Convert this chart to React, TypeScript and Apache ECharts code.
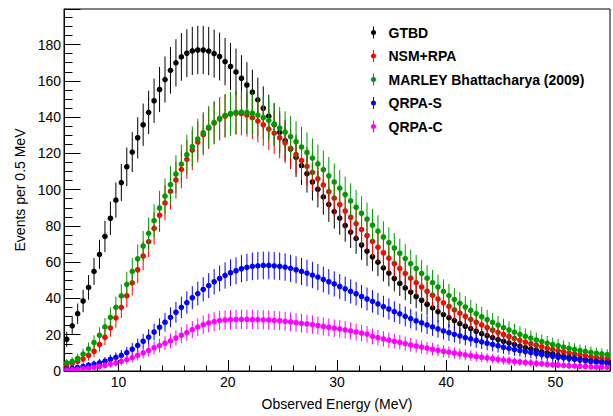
import React, { useEffect, useRef } from "react";
import * as echarts from "echarts";

// Histogram binning (observed energy, MeV)
const BIN_START = 5;
const BIN_WIDTH = 0.5;

// Events per 0.5 MeV, one value per bin
const gtbd = [
  17.5, 24.9, 31.6, 38.6, 46.1, 54.9, 64.3, 74.2, 84.2, 94.2,
  103.9, 112.6, 120.7, 128.6, 135.8, 142.6, 149.0, 155.2, 160.7, 165.8,
  169.9, 173.2, 175.2, 176.5, 177.0, 177.0, 176.4, 175.0, 173.4, 170.6,
  167.9, 164.9, 161.4, 157.7, 153.7, 149.5, 144.9, 140.5, 135.9, 131.6,
  127.0, 122.4, 117.8, 113.2, 108.8, 104.2, 100.2, 96.0, 91.8, 87.9,
  84.3, 80.2, 76.6, 73.1, 69.5, 66.1, 63.0, 60.0, 56.9, 54.0,
  51.0, 48.3, 45.8, 43.5, 41.1, 39.0, 36.8, 34.8, 32.7, 31.1,
  29.4, 27.8, 26.1, 24.7, 23.4, 21.9, 20.6, 19.5, 18.4, 17.3,
  16.4, 15.5, 14.6, 13.7, 12.9, 12.2, 11.5, 10.7, 10.0, 9.4,
  8.7, 8.1, 7.6, 7.1, 6.7, 6.3, 5.9, 5.6, 5.3, 5.0,
];

const nsmRpa = [
  3.2, 4.3, 5.4, 6.7, 8.7, 10.9, 14.6, 18.6, 23.8, 29.3,
  35.1, 41.5, 48.6, 55.8, 63.4, 71.3, 78.6, 85.9, 92.7, 99.1,
  105.3, 111.2, 116.7, 121.8, 126.2, 130.3, 133.9, 136.7, 138.9, 140.5,
  141.6, 142.1, 141.9, 141.1, 139.7, 137.8, 135.8, 133.4, 131.2, 128.6,
  125.8, 122.7, 119.4, 116.1, 112.8, 109.5, 106.0, 102.6, 98.9, 95.3,
  91.8, 88.2, 84.8, 81.3, 78.0, 74.7, 71.5, 68.3, 65.2, 62.2,
  59.3, 56.5, 53.8, 51.2, 48.7, 46.3, 44.0, 41.8, 39.7, 37.6,
  35.6, 33.7, 31.9, 30.2, 28.5, 26.9, 25.4, 24.0, 22.6, 21.3,
  20.1, 19.0, 17.9, 16.9, 15.9, 15.0, 14.2, 13.4, 12.6, 11.9,
  11.2, 10.6, 10.0, 9.4, 8.9, 8.4, 7.9, 7.5, 7.1, 6.7,
];

const marley = [
  4.5, 5.3, 6.9, 9.3, 12.2, 15.7, 19.7, 24.3, 29.6, 35.1,
  41.4, 47.8, 54.9, 61.9, 68.9, 75.9, 82.9, 89.9, 96.4, 102.8,
  108.6, 114.1, 119.3, 123.7, 127.9, 131.4, 134.5, 137.1, 139.3, 140.9,
  142.0, 142.6, 142.7, 142.6, 142.1, 141.1, 139.8, 138.2, 136.2, 134.0,
  131.7, 129.2, 126.4, 123.5, 120.5, 117.4, 114.2, 111.0, 107.6, 104.2,
  100.8, 97.3, 93.8, 90.3, 87.0, 83.7, 80.4, 77.1, 73.9, 70.8,
  67.8, 64.9, 62.0, 59.2, 56.5, 53.8, 51.2, 48.7, 46.3, 43.9,
  41.6, 39.4, 37.3, 35.3, 33.4, 31.6, 29.9, 28.3, 26.8, 25.3,
  23.9, 22.6, 21.4, 20.2, 19.1, 18.1, 17.1, 16.2, 15.4, 14.6,
  13.9, 13.2, 12.5, 11.9, 11.3, 10.8, 10.3, 9.8, 9.4, 9.0,
];

const qrpaS = [
  1.0, 1.5, 1.9, 2.5, 3.2, 3.8, 4.5, 5.4, 6.5, 7.5,
  8.6, 10.1, 12.0, 14.1, 16.4, 18.7, 21.5, 24.1, 26.9, 29.6,
  32.4, 35.1, 37.7, 40.4, 42.7, 45.0, 47.1, 49.2, 51.0, 52.7,
  54.2, 55.3, 56.4, 57.1, 57.7, 58.0, 58.2, 58.2, 58.0, 57.7,
  57.3, 56.6, 55.8, 54.9, 54.0, 52.9, 51.8, 50.5, 49.2, 48.0,
  46.6, 45.3, 43.9, 42.6, 41.1, 39.7, 38.4, 37.0, 35.5, 34.2,
  32.7, 31.5, 30.1, 28.9, 27.6, 26.5, 25.4, 24.3, 23.2, 22.1,
  21.2, 20.2, 19.4, 18.4, 17.7, 16.8, 16.1, 15.3, 14.6, 13.9,
  13.1, 12.5, 11.8, 11.3, 10.7, 10.2, 9.6, 9.1, 8.5, 8.1,
  7.6, 7.3, 6.9, 6.5, 6.0, 5.6, 5.2, 4.9, 4.6, 4.3,
];

const qrpaC = [
  0.5, 0.7, 0.9, 1.2, 1.6, 2.0, 2.5, 3.1, 3.8, 4.5,
  5.3, 6.3, 7.4, 8.7, 10.0, 11.3, 12.8, 14.0, 15.3, 16.6,
  18.2, 19.7, 21.2, 22.8, 24.2, 25.5, 26.5, 27.2, 27.8, 28.1,
  28.3, 28.4, 28.5, 28.5, 28.4, 28.3, 28.2, 28.1, 27.9, 27.7,
  27.4, 27.1, 26.7, 26.3, 26.0, 25.6, 25.1, 24.6, 24.1, 23.6,
  23.2, 22.7, 22.1, 21.5, 20.9, 20.3, 19.1, 18.4, 17.7, 17.0,
  16.4, 15.8, 15.1, 14.4, 13.8, 13.2, 12.6, 12.0, 11.4, 10.9,
  10.4, 9.9, 9.4, 8.9, 8.5, 8.0, 7.6, 7.2, 6.8, 6.4,
  6.0, 5.7, 5.3, 5.0, 4.7, 4.5, 4.2, 4.0, 3.7, 3.5,
  3.3, 3.1, 2.9, 2.8, 2.6, 2.5, 2.3, 2.2, 2.1, 2.0,
];

const seriesNames = [
  "GTBD",
  "NSM+RPA",
  "MARLEY Bhattacharya (2009)",
  "QRPA-S",
  "QRPA-C",
];
const seriesValues = [gtbd, nsmRpa, marley, qrpaS, qrpaC];
const seriesColors = ["#000000", "#ff0000", "#009900", "#0000ff", "#ff00ff"];

const X_MIN = 5;
const X_MAX = 55;
const Y_MIN = 0;
const Y_MAX = 199.6;

const FONT = "'Liberation Sans', Arial, Helvetica, sans-serif";

const legendIcon =
  "path://M2.5,0H3.5V3.6H2.5Z M2.5,8.4H3.5V12H2.5Z M3,3.5A2.5,2.5,0,1,1,3,8.5A2.5,2.5,0,1,1,3,3.5Z";

function buildSeries() {
  return seriesValues.map((vals, k) => {
    const color = seriesColors[k];
    const data = vals.map((v, i) => [
      BIN_START + BIN_WIDTH * (i + 0.5),
      v,
      Math.sqrt(v), // statistical (Poisson) uncertainty
    ]);
    return {
      type: "custom",
      name: seriesNames[k],
      itemStyle: { color },
      clip: true,
      encode: { x: 0, y: 1 },
      data,
      renderItem: (params: any, api: any) => {
        const x = api.value(0);
        const y = api.value(1);
        const e = api.value(2);
        const p = api.coord([x, y]);
        const top = api.coord([x, y + e]);
        const bot = api.coord([x, y - e]);
        return {
          type: "group",
          children: [
            {
              type: "line",
              shape: { x1: p[0], y1: top[1], x2: p[0], y2: bot[1] },
              style: { stroke: color, lineWidth: 1 },
            },
            {
              type: "circle",
              shape: { cx: p[0], cy: p[1], r: 2.8 },
              style: { fill: color },
            },
          ],
        };
      },
    };
  });
}

export default function App() {
  const ref = useRef<HTMLDivElement>(null);

  useEffect(() => {
    if (!ref.current) return;
    const chart = echarts.init(ref.current, undefined, { renderer: "svg" });
    const option: any = {
      animation: false,
      backgroundColor: "#ffffff",
      grid: {
        left: 64,
        right: 3,
        top: 9,
        bottom: 43.5,
        show: true,
        borderColor: "#000000",
        borderWidth: 1,
        backgroundColor: "transparent",
      },
      legend: {
        orient: "vertical",
        left: 366,
        top: 20.5,
        itemWidth: 6,
        itemHeight: 12,
        itemGap: 9.5,
        icon: legendIcon,
        data: seriesNames,
        selectedMode: false,
        textStyle: {
          fontFamily: FONT,
          fontSize: 14,
          fontWeight: "bold",
          color: "#000000",
          lineHeight: 14,
          padding: [0, 0, 0, 7],
        },
      },
      xAxis: {
        type: "value",
        min: X_MIN,
        max: X_MAX,
        splitNumber: 5,
        name: "Observed Energy (MeV)",
        nameLocation: "middle",
        nameGap: 26,
        nameTextStyle: { fontFamily: FONT, fontSize: 14, color: "#000000" },
        axisLine: { show: true, lineStyle: { color: "#000000", width: 1 } },
        axisTick: {
          show: true,
          inside: true,
          length: 11,
          lineStyle: { color: "#000000", width: 1 },
        },
        minorTick: {
          show: true,
          splitNumber: 5,
          length: 5.5,
          lineStyle: { color: "#000000", width: 1 },
        },
        axisLabel: {
          margin: 4,
          fontFamily: FONT,
          fontSize: 14,
          color: "#000000",
          formatter: (v: number) => (v % 10 === 0 ? String(v) : ""),
        },
        splitLine: { show: false },
      },
      yAxis: {
        type: "value",
        min: Y_MIN,
        max: Y_MAX,
        splitNumber: 10,
        name: "Events per 0.5 MeV",
        nameLocation: "middle",
        nameGap: 33,
        nameTextStyle: { fontFamily: FONT, fontSize: 14, color: "#000000" },
        axisLine: { show: true, lineStyle: { color: "#000000", width: 1 } },
        axisTick: {
          show: true,
          inside: true,
          length: 16.5,
          lineStyle: { color: "#000000", width: 1 },
        },
        minorTick: {
          show: true,
          splitNumber: 4,
          length: 8.5,
          lineStyle: { color: "#000000", width: 1 },
        },
        axisLabel: {
          margin: 3,
          fontFamily: FONT,
          fontSize: 14,
          color: "#000000",
          formatter: (v: number) => (v % 20 === 0 ? String(v) : ""),
        },
        splitLine: { show: false },
      },
      series: buildSeries(),
    };
    chart.setOption(option);
    return () => {
      chart.dispose();
    };
  }, []);

  return (
    <div
      ref={ref}
      style={{ position: "fixed", left: 0, top: 0, width: 613, height: 416 }}
    />
  );
}
